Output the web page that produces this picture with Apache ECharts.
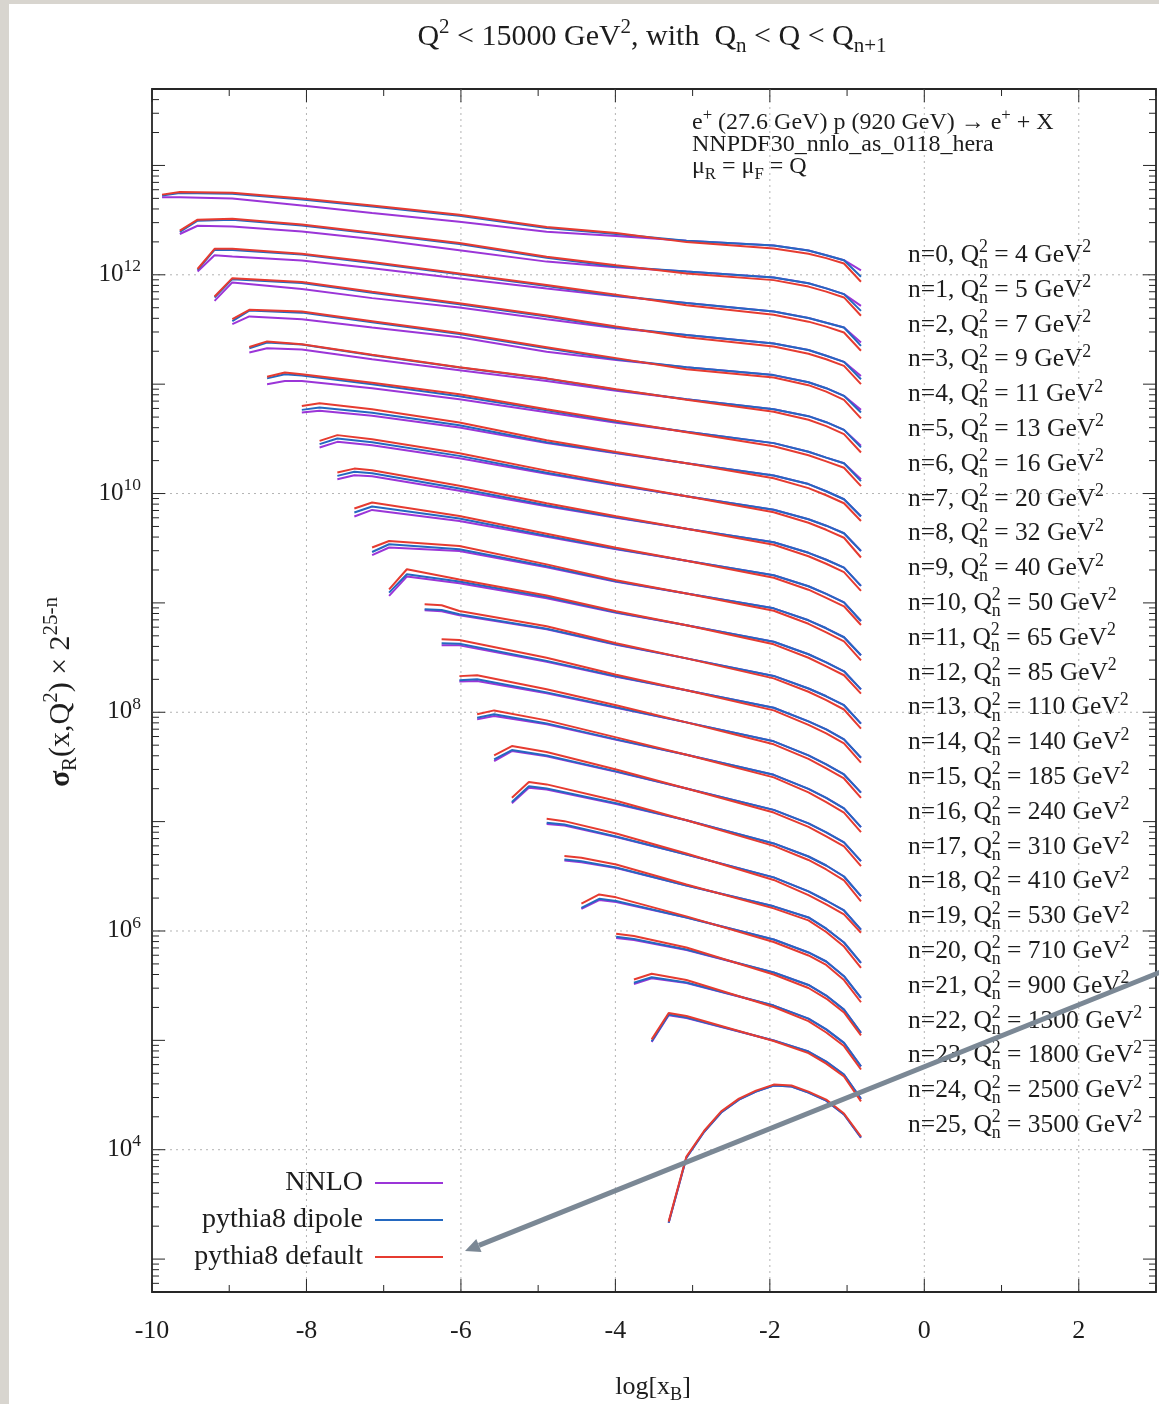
<!DOCTYPE html>
<html>
<head>
<meta charset="utf-8">
<script src="https://cdn.jsdelivr.net/npm/echarts@6/dist/echarts.min.js"></script>
<style>
  html, body { margin: 0; padding: 0; width: 1159px; height: 1404px; background: #d8d5cf; overflow: hidden; }
  #paper { position: absolute; left: 9px; top: 4px; width: 1150px; height: 1400px; background: #ffffff; }
  #chart { position: absolute; left: 0; top: 0; width: 1159px; height: 1404px; }
</style>
</head>
<body>
<div id="paper"></div>
<div id="chart"></div>
<script>
// ---------------------------------------------------------------------------
// Reduced cross section sigma_R(x,Q^2) x 2^(25-n) per Q^2 bin n.
// ---------------------------------------------------------------------------

// log[x_B] grid shared by all bins
const gridX = [-9.87,-9.64,-9.41,-9.19,-8.96,-8.74,-8.51,-8.28,-8.06,-7.83,-7.60,-7.38,-7.15,-6.93,-6.70,-6.47,-6.25,-6.02,-5.79,-5.57,-5.34,-5.12,-4.89,-4.66,-4.44,-4.21,-3.99,-3.76,-3.53,-3.31,-3.08,-2.85,-2.63,-2.40,-2.18,-1.95,-1.72,-1.50,-1.27,-1.04,-0.82];

// lower edge Q_n^2 of each bin (GeV^2)
const qBins = [4,5,7,9,11,13,16,20,32,40,50,65,85,110,140,185,240,310,410,530,710,900,1300,1800,2500,3500];

// grid indices at which each bin is tabulated
const sampleIdx = [
  [0,1,4,8,12,17,22,26,30,35,37,38,39,40],
  [1,2,4,8,12,17,22,26,30,35,37,38,39,40],
  [2,3,4,8,12,17,22,26,30,35,37,38,39,40],
  [3,4,8,12,17,22,26,30,35,37,38,39,40],
  [4,5,8,12,17,22,26,30,35,37,38,39,40],
  [5,6,8,12,17,22,26,30,35,37,38,39,40],
  [6,7,8,12,17,22,26,30,35,37,38,39,40],
  [8,9,12,17,22,26,30,35,37,38,39,40],
  [9,10,12,17,22,26,30,35,37,38,39,40],
  [10,11,12,17,22,26,30,35,37,38,39,40],
  [11,12,17,22,26,30,35,37,38,39,40],
  [12,13,17,22,26,30,35,37,38,39,40],
  [13,14,17,22,26,30,35,37,38,39,40],
  [15,16,17,22,26,30,35,37,38,39,40],
  [16,17,22,26,30,35,37,38,39,40],
  [17,18,22,26,30,35,37,38,39,40],
  [18,19,22,26,30,35,37,38,39,40],
  [19,20,22,26,30,35,37,38,39,40],
  [20,21,22,26,30,35,37,38,39,40],
  [22,23,26,30,35,37,38,39,40],
  [23,24,26,30,35,37,38,39,40],
  [24,25,26,30,35,37,38,39,40],
  [26,27,30,35,37,38,39,40],
  [27,28,30,35,37,38,39,40],
  [28,29,30,35,37,38,39,40],
  [29,30,31,32,33,34,35,36,37,38,39,40]
];

// NNLO prediction
const nnlo = [
  [5.11e12,5.11e12,4.98e12,4.30e12,3.67e12,3.05e12,2.48e12,2.26e12,2.05e12,1.85e12,1.67e12,1.51e12,1.36e12,1.10e12],
  [2.36e12,2.81e12,2.77e12,2.49e12,2.12e12,1.68e12,1.32e12,1.17e12,1.07e12,9.43e11,8.36e11,7.52e11,6.66e11,5.20e11],
  [1.07e12,1.51e12,1.47e12,1.35e12,1.15e12,9.27e11,7.48e11,6.35e11,5.51e11,4.61e11,4.02e11,3.65e11,3.30e11,2.41e11],
  [5.78e11,8.52e11,7.40e11,6.12e11,5.03e11,3.93e11,3.25e11,2.81e11,2.35e11,2.05e11,1.82e11,1.60e11,1.19e11],
  [3.54e11,4.16e11,3.93e11,3.29e11,2.68e11,1.98e11,1.66e11,1.43e11,1.21e11,1.04e11,9.19e10,7.82e10,5.82e10],
  [1.95e11,2.13e11,2.07e11,1.69e11,1.34e11,1.07e11,8.72e10,7.29e10,5.91e10,5.10e10,4.49e10,3.82e10,2.73e10],
  [1.00e11,1.07e11,1.07e11,9.19e10,7.29e10,5.54e10,4.44e10,3.68e10,2.89e10,2.41e10,2.13e10,1.89e10,1.35e10],
  [5.51e10,5.70e10,5.15e10,4.02e10,2.89e10,2.34e10,1.89e10,1.46e10,1.22e10,1.05e10,8.87e9,6.20e9],
  [2.64e10,2.97e10,2.77e10,2.10e10,1.52e10,1.19e10,9.45e9,7.11e9,5.82e9,5.08e9,4.33e9,2.98e9],
  [1.35e10,1.47e10,1.44e10,1.06e10,7.65e9,6.00e9,4.76e9,3.58e9,2.87e9,2.48e9,2.10e9,1.43e9],
  [6.16e9,7.08e9,5.61e9,4.02e9,3.09e9,2.43e9,1.79e9,1.42e9,1.21e9,1.01e9,6.83e8],
  [2.73e9,3.21e9,2.98e9,2.12e9,1.56e9,1.22e9,8.92e8,6.93e8,5.86e8,4.85e8,3.32e8],
  [1.16e9,1.74e9,1.51e9,1.10e9,8.12e8,6.24e8,4.41e8,3.39e8,2.86e8,2.37e8,1.62e8],
  [8.56e8,8.38e8,7.70e8,5.73e8,4.14e8,3.11e8,2.15e8,1.65e8,1.40e8,1.16e8,7.86e7],
  [4.09e8,4.09e8,2.89e8,2.11e8,1.59e8,1.10e8,8.26e7,6.97e7,5.65e7,3.84e7],
  [1.91e8,1.93e8,1.49e8,1.10e8,8.08e7,5.42e7,4.03e7,3.34e7,2.70e7,1.84e7],
  [8.61e7,9.23e7,7.75e7,5.59e7,4.08e7,2.68e7,1.99e7,1.65e7,1.32e7,8.91e6],
  [3.58e7,4.42e7,3.95e7,2.85e7,2.01e7,1.28e7,9.63e6,7.97e6,6.45e6,4.35e6],
  [1.47e7,2.04e7,1.97e7,1.45e7,1.03e7,6.32e6,4.80e6,3.97e6,3.15e6,2.08e6],
  [9.53e6,9.23e6,7.24e6,5.01e6,3.09e6,2.30e6,1.90e6,1.54e6,1.03e6],
  [4.42e6,4.26e6,3.77e6,2.61e6,1.68e6,1.33e6,1.05e6,7.85e5,5.12e5],
  [1.59e6,1.92e6,1.84e6,1.33e6,8.36e5,6.36e5,5.26e5,3.86e5,2.45e5],
  [8.63e5,8.27e5,6.70e5,4.17e5,3.21e5,2.57e5,1.91e5,1.17e5],
  [3.27e5,3.70e5,3.34e5,2.08e5,1.58e5,1.26e5,9.49e4,5.79e4],
  [9.65e4,1.70e5,1.60e5,9.96e4,7.90e4,6.40e4,4.87e4,2.92e4],
  [2.15e3,8.47e3,1.46e4,2.19e4,2.87e4,3.40e4,3.86e4,3.78e4,3.33e4,2.81e4,2.10e4,1.29e4]
];

// pythia8, dipole shower
const dipole = [
  [5.30e12,5.59e12,5.51e12,4.88e12,4.21e12,3.47e12,2.68e12,2.36e12,2.05e12,1.85e12,1.67e12,1.51e12,1.36e12,9.59e11],
  [2.47e12,3.12e12,3.19e12,2.83e12,2.38e12,1.91e12,1.43e12,1.19e12,1.07e12,9.43e11,8.36e11,7.52e11,6.66e11,4.68e11],
  [1.11e12,1.69e12,1.69e12,1.53e12,1.28e12,1.01e12,7.88e11,6.43e11,5.51e11,4.61e11,4.02e11,3.65e11,3.30e11,2.24e11],
  [6.21e11,9.13e11,8.40e11,6.87e11,5.39e11,4.15e11,3.30e11,2.81e11,2.35e11,2.05e11,1.82e11,1.60e11,1.11e11],
  [3.77e11,4.71e11,4.51e11,3.69e11,2.87e11,2.13e11,1.69e11,1.43e11,1.21e11,1.04e11,9.19e10,7.82e10,5.51e10],
  [2.13e11,2.40e11,2.30e11,1.84e11,1.42e11,1.12e11,8.91e10,7.29e10,5.91e10,5.10e10,4.49e10,3.82e10,2.64e10],
  [1.13e11,1.23e11,1.20e11,1.00e11,7.77e10,5.78e10,4.54e10,3.68e10,2.89e10,2.41e10,2.13e10,1.89e10,1.30e10],
  [5.82e10,6.12e10,5.49e10,4.22e10,2.95e10,2.36e10,1.89e10,1.46e10,1.22e10,1.05e10,8.87e9,6.16e9],
  [2.83e10,3.19e10,2.95e10,2.21e10,1.55e10,1.20e10,9.45e9,7.11e9,5.82e9,5.08e9,4.33e9,2.98e9],
  [1.45e10,1.58e10,1.53e10,1.11e10,7.82e9,6.07e9,4.76e9,3.58e9,2.87e9,2.48e9,2.10e9,1.43e9],
  [6.70e9,7.60e9,5.91e9,4.11e9,3.13e9,2.43e9,1.79e9,1.42e9,1.21e9,1.01e9,6.83e8],
  [2.92e9,3.44e9,3.09e9,2.16e9,1.58e9,1.22e9,8.92e8,6.93e8,5.86e8,4.85e8,3.32e8],
  [1.24e9,1.83e9,1.57e9,1.13e9,8.20e8,6.24e8,4.41e8,3.39e8,2.86e8,2.37e8,1.62e8],
  [8.74e8,8.61e8,7.86e8,5.79e8,4.18e8,3.11e8,2.15e8,1.65e8,1.40e8,1.16e8,7.86e7],
  [4.27e8,4.24e8,2.95e8,2.13e8,1.59e8,1.10e8,8.26e7,6.97e7,5.65e7,3.84e7],
  [1.96e8,2.00e8,1.52e8,1.11e8,8.08e7,5.42e7,4.03e7,3.34e7,2.70e7,1.84e7],
  [8.92e7,9.57e7,7.91e7,5.65e7,4.08e7,2.68e7,1.99e7,1.65e7,1.32e7,8.91e6],
  [3.71e7,4.51e7,4.03e7,2.88e7,2.01e7,1.28e7,9.63e6,7.97e6,6.45e6,4.35e6],
  [1.51e7,2.11e7,2.01e7,1.47e7,1.03e7,6.32e6,4.80e6,3.97e6,3.15e6,2.08e6],
  [9.77e6,9.43e6,7.32e6,5.01e6,3.09e6,2.30e6,1.90e6,1.54e6,1.03e6],
  [4.51e6,4.35e6,3.81e6,2.61e6,1.68e6,1.33e6,1.05e6,7.85e5,5.12e5],
  [1.63e6,1.97e6,1.88e6,1.33e6,8.36e5,6.36e5,5.26e5,3.86e5,2.45e5],
  [8.85e5,8.45e5,6.77e5,4.17e5,3.21e5,2.57e5,1.91e5,1.17e5],
  [3.36e5,3.78e5,3.38e5,2.08e5,1.58e5,1.26e5,9.49e4,5.79e4],
  [9.81e4,1.72e5,1.62e5,9.96e4,7.90e4,6.40e4,4.87e4,2.92e4],
  [2.15e3,8.47e3,1.46e4,2.19e4,2.87e4,3.40e4,3.86e4,3.78e4,3.33e4,2.81e4,2.10e4,1.29e4]
];

// pythia8, default shower
const pythiaDefault = [
  [5.41e12,5.71e12,5.63e12,4.98e12,4.30e12,3.54e12,2.74e12,2.41e12,1.99e12,1.74e12,1.56e12,1.42e12,1.27e12,8.63e11],
  [2.53e12,3.19e12,3.26e12,2.89e12,2.43e12,1.95e12,1.46e12,1.22e12,1.03e12,8.94e11,7.80e11,7.02e11,6.21e11,4.22e11],
  [1.13e12,1.73e12,1.73e12,1.56e12,1.31e12,1.03e12,8.05e11,6.57e11,5.28e11,4.32e11,3.73e11,3.36e11,2.97e11,2.02e11],
  [6.34e11,9.32e11,8.58e11,7.01e11,5.50e11,4.24e11,3.37e11,2.69e11,2.21e11,1.90e11,1.69e11,1.47e11,1.00e11],
  [3.93e11,4.78e11,4.61e11,3.77e11,2.93e11,2.18e11,1.73e11,1.37e11,1.15e11,9.79e10,8.54e10,7.19e10,4.86e10],
  [2.19e11,2.46e11,2.32e11,1.86e11,1.43e11,1.13e11,9.00e10,7.21e10,5.60e10,4.73e10,4.13e10,3.49e10,2.37e10],
  [1.17e11,1.28e11,1.23e11,1.03e11,8.10e10,5.91e10,4.62e10,3.64e10,2.71e10,2.24e10,1.97e10,1.72e10,1.17e10],
  [6.33e10,6.70e10,5.91e10,4.46e10,3.07e10,2.40e10,1.89e10,1.38e10,1.12e10,9.65e9,8.15e9,5.61e9],
  [3.03e10,3.42e10,3.14e10,2.34e10,1.62e10,1.23e10,9.45e9,6.74e9,5.41e9,4.66e9,3.94e9,2.60e9],
  [1.56e10,1.69e10,1.63e10,1.18e10,8.15e9,6.20e9,4.76e9,3.40e9,2.67e9,2.28e9,1.91e9,1.29e9],
  [7.29e9,8.27e9,6.24e9,4.29e9,3.19e9,2.43e9,1.70e9,1.32e9,1.11e9,9.31e8,6.28e8],
  [3.21e9,3.68e9,3.32e9,2.25e9,1.61e9,1.22e9,8.47e8,6.44e8,5.38e8,4.45e8,2.98e8],
  [1.33e9,2.03e9,1.64e9,1.17e9,8.38e8,6.24e8,4.18e8,3.15e8,2.63e8,2.18e8,1.48e8],
  [9.71e8,9.51e8,8.43e8,6.11e8,4.27e8,3.11e8,2.04e8,1.54e8,1.29e8,1.06e8,7.08e7],
  [4.65e8,4.58e8,3.15e8,2.20e8,1.59e8,1.04e8,7.67e7,6.41e7,5.19e7,3.46e7],
  [2.14e8,2.18e8,1.62e8,1.16e8,8.08e7,5.09e7,3.75e7,3.07e7,2.48e7,1.65e7],
  [9.57e7,1.04e8,8.43e7,5.89e7,4.08e7,2.54e7,1.85e7,1.51e7,1.21e7,8.01e6],
  [4.03e7,4.91e7,4.34e7,3.00e7,2.01e7,1.21e7,8.94e6,7.32e6,5.93e6,3.92e6],
  [1.65e7,2.30e7,2.19e7,1.55e7,1.03e7,6.00e6,4.46e6,3.65e6,2.90e6,1.87e6],
  [1.06e7,1.01e7,7.80e6,5.12e6,2.93e6,2.13e6,1.75e6,1.42e6,9.63e5],
  [4.84e6,4.67e6,4.06e6,2.66e6,1.61e6,1.25e6,9.79e5,7.21e5,4.61e5],
  [1.78e6,2.16e6,2.03e6,1.36e6,7.93e5,5.97e5,4.89e5,3.56e5,2.23e5],
  [9.43e5,9.00e5,7.06e5,4.00e5,3.01e5,2.41e5,1.80e5,1.11e5],
  [3.60e5,4.06e5,3.56e5,2.02e5,1.50e5,1.18e5,8.87e4,5.41e4],
  [1.02e5,1.78e5,1.67e5,9.85e4,7.65e4,6.13e4,4.67e4,2.77e4],
  [2.20e3,8.65e3,1.49e4,2.24e4,2.93e4,3.47e4,3.94e4,3.86e4,3.40e4,2.87e4,2.14e4,1.32e4]
];

// axis tick labels
const xTickLabels = [-10, -8, -6, -4, -2, 0, 2];
const yLabelExponents = [4, 6, 8, 10, 12];

// ---------------------------------------------------------------------------
const FONT = '"Liberation Serif", "Times New Roman", serif';
const TEXT = '#1d1d1d';
const COL = { nnlo: '#9b35d8', dipole: '#2468c0', def: '#e63b30' };
const PLOT = { left: 152, top: 89, right: 1156, bottom: 1292 };

const chart = echarts.init(document.getElementById('chart'), null, { renderer: 'canvas' });

const series = [];
[['NNLO', nnlo, COL.nnlo], ['pythia8 dipole', dipole, COL.dipole], ['pythia8 default', pythiaDefault, COL.def]]
  .forEach(([name, table, color], vi) => {
    table.forEach((vals, n) => {
      series.push({
        type: 'line', name,
        data: vals.map((v, i) => [gridX[sampleIdx[n][i]], v]),
        symbol: 'none', showSymbol: false,
        lineStyle: { color, width: 2 }, itemStyle: { color },
        z: 2 + vi, silent: true, animation: false
      });
    });
  });

chart.setOption({
  animation: false,
  grid: {
    left: PLOT.left, top: PLOT.top,
    width: PLOT.right - PLOT.left, height: PLOT.bottom - PLOT.top,
    show: true, borderColor: '#262626', borderWidth: 1.8, backgroundColor: 'rgba(0,0,0,0)'
  },
  xAxis: {
    type: 'value', min: -10, max: 3, interval: 2,
    axisLine: { show: false }, axisTick: { show: false }, splitLine: { show: false },
    axisLabel: {
      show: true, margin: 26, showMaxLabel: false,
      fontSize: 26, fontFamily: FONT, color: TEXT,
      formatter: v => (xTickLabels.indexOf(v) >= 0 ? String(v) : '')
    }
  },
  yAxis: {
    type: 'log', logBase: 10, min: 500, max: 5e13,
    axisLine: { show: false }, axisTick: { show: false }, axisLabel: { show: false },
    splitLine: { show: false }
  },
  legend: {
    data: ['NNLO', 'pythia8 dipole', 'pythia8 default'],
    orient: 'vertical', align: 'right',
    right: 1159 - 443, top: 1168, padding: 0,
    icon: 'rect', itemWidth: 68, itemHeight: 2, itemGap: 7,
    selectedMode: false,
    formatter: name => name + ' ',
    textStyle: { fontSize: 28, fontFamily: FONT, color: TEXT, lineHeight: 30 }
  },
  series
});

// ---------------------------------------------------------------------------
// Text with sub/superscripts, laid out run by run
const mctx = document.createElement('canvas').getContext('2d');
function measure(t, size) { mctx.font = size + 'px ' + FONT; return mctx.measureText(t).width; }

function mathLabel(runs, base, opt) {
  let x = 0, held = 0;
  const pieces = [];
  runs.forEach(r => {
    const run = typeof r === 'string' ? { t: r } : r;
    const small = run.sub || run.sup;
    const size = small ? base * 0.7 : base;
    const dy = run.sup ? -0.4 * base : (run.sub ? 0.22 * base : 0);
    const w = measure(run.t, size);
    pieces.push({ t: run.t, size, x, dy, bold: run.bold });
    if (run.hold) { held = w; } else { x += Math.max(w, held); held = 0; }
  });
  const off = opt.align === 'center' ? -x / 2 : (opt.align === 'right' ? -x : 0);
  return {
    type: 'group', x: opt.x, y: opt.y, rotation: opt.rotation || 0, silent: true,
    children: pieces.map(p => ({
      type: 'text', x: off + p.x, y: p.dy - 0.34 * p.size, z: 30, silent: true,
      style: {
        text: p.t, fontSize: p.size, fontFamily: FONT, fontWeight: p.bold ? 'bold' : 'normal',
        fill: TEXT, align: 'left', verticalAlign: 'middle'
      }
    }))
  };
}

function seg(x1, y1, x2, y2, style, z) {
  return {
    type: 'line', silent: true, z: z || 6,
    shape: { x1, y1, x2, y2 },
    style: Object.assign({ stroke: '#262626', lineWidth: 1 }, style)
  };
}

const yPix = v => chart.convertToPixel({ yAxisIndex: 0 }, v);
const xPix = v => chart.convertToPixel({ xAxisIndex: 0 }, v);
const G = [];

// dotted grid at the labelled ticks
const gridStyle = { stroke: '#b3b3b3', lineWidth: 1, lineDash: [2, 4] };
yLabelExponents.forEach(e => {
  const y = yPix(Math.pow(10, e));
  G.push(seg(PLOT.left, y, PLOT.right, y, gridStyle, 1));
});
xTickLabels.forEach(v => {
  if (v === -10) return;
  const x = xPix(v);
  G.push(seg(x, PLOT.top, x, PLOT.bottom, gridStyle, 1));
});

// log ticks on left and right frame
for (let d = 2; d <= 13; d++) {
  for (let k = 1; k <= 9; k++) {
    const v = k * Math.pow(10, d);
    if (v < 500 || v > 5e13) continue;
    const y = yPix(v);
    const len = k === 1 ? 13 : 7;
    G.push(seg(PLOT.left, y, PLOT.left + len, y));
    G.push(seg(PLOT.right - len, y, PLOT.right, y));
  }
}
// x ticks on bottom and top frame
for (let v = -10; v <= 3; v++) {
  const x = xPix(v);
  const len = v % 2 === 0 ? 13 : 7;
  G.push(seg(x, PLOT.bottom, x, PLOT.bottom - len));
  G.push(seg(x, PLOT.top, x, PLOT.top + len));
}

// y tick labels 10^e
yLabelExponents.forEach(e => {
  const y = yPix(Math.pow(10, e));
  G.push(mathLabel(['10', { t: String(e), sup: true }], 25, { x: 141, y: y + 8, align: 'right' }));
});

// title
G.push(mathLabel([
  'Q', { t: '2', sup: true }, ' < 15000 GeV', { t: '2', sup: true }, ', with  Q', { t: 'n', sub: true },
  ' < Q < Q', { t: 'n+1', sub: true }
], 30, { x: 652, y: 47, align: 'center' }));

// process / PDF / scale annotation
G.push(mathLabel(['e', { t: '+', sup: true }, ' (27.6 GeV) p (920 GeV) \u2192 e', { t: '+', sup: true }, ' + X'], 24,
  { x: 692, y: 131, align: 'left' }));
G.push(mathLabel(['NNPDF30_nnlo_as_0118_hera'], 24, { x: 692, y: 153, align: 'left' }));
G.push(mathLabel(['\u03bc', { t: 'R', sub: true }, ' = \u03bc', { t: 'F', sub: true }, ' = Q'], 24,
  { x: 692, y: 175, align: 'left' }));

// bin labels
qBins.forEach((q, n) => {
  G.push(mathLabel([
    'n=' + n + ', Q', { t: 'n', sub: true, hold: true }, { t: '2', sup: true },
    ' = ' + q + ' GeV', { t: '2', sup: true }
  ], 25.5, { x: 908, y: 264 + 34.8 * n, align: 'left' }));
});

// axis titles
G.push(mathLabel(['log[x', { t: 'B', sub: true }, ']'], 26, { x: 653, y: 1396, align: 'center' }));
G.push(mathLabel([{ t: '\u03c3', bold: true }, { t: 'R', sub: true }, '(x,Q', { t: '2', sup: true }, ') \u00d7 2',
  { t: '25-n', sup: true }], 30, { x: 71, y: 692, align: 'center', rotation: Math.PI / 2 }));

// pointer arrow
const tip = [465, 1251], tail = [1163, 971];
const ux = (tip[0] - tail[0]), uy = (tip[1] - tail[1]);
const ul = Math.hypot(ux, uy), ex = ux / ul, ey = uy / ul;
const headL = 15, headW = 7;
const bx = tip[0] - ex * headL, by = tip[1] - ey * headL;
G.push(seg(tail[0], tail[1], bx, by, { stroke: '#7b8895', lineWidth: 5, lineCap: 'butt' }, 40));
G.push({
  type: 'polygon', z: 40, silent: true,
  shape: { points: [tip, [bx - ey * headW, by + ex * headW], [bx + ey * headW, by - ex * headW]] },
  style: { fill: '#7b8895' }
});

chart.setOption({ graphic: { elements: G } });
</script>
</body>
</html>
